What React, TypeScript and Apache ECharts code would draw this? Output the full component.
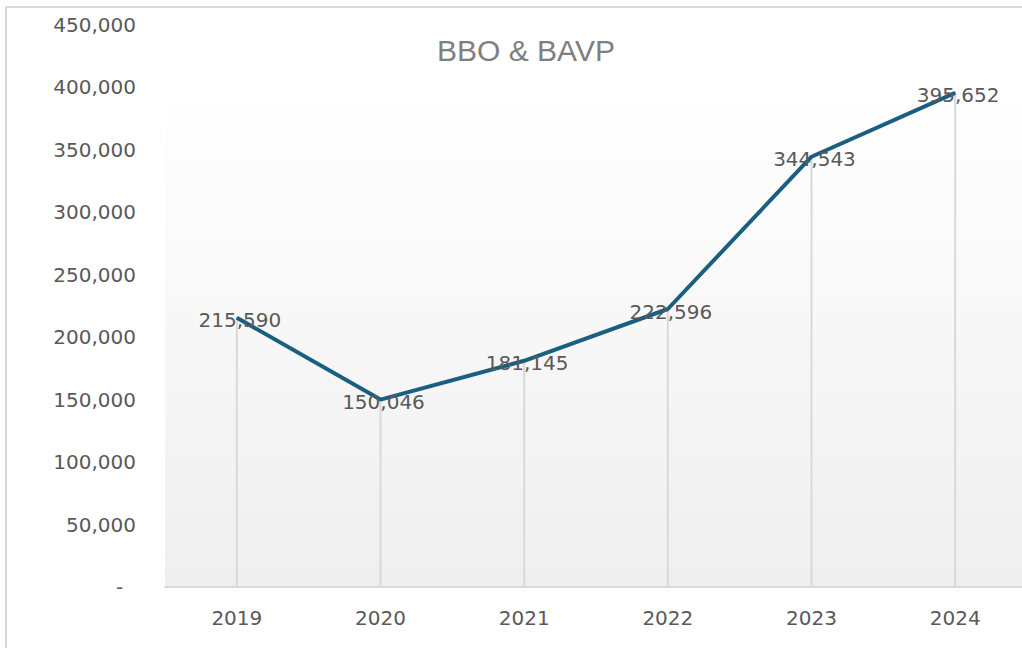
import React, { useEffect, useRef } from "react";
import * as echarts from "echarts";

const categories = ["2019", "2020", "2021", "2022", "2023", "2024"];
const values = [215590, 150046, 181145, 222596, 344543, 395652];
const yTicks = [0, 50000, 100000, 150000, 200000, 250000, 300000, 350000, 400000, 450000];
const title = "BBO & BAVP";

const FONT = "DejaVu Sans, sans-serif";
const TITLE_FONT = "Liberation Sans, Arial, sans-serif";

function fmt(v: number): string {
  if (v === 0) return "-  ";
  return v.toLocaleString("en-US");
}

export default function App() {
  const ref = useRef<HTMLDivElement>(null);
  useEffect(() => {
    if (!ref.current) return;
    const chart = echarts.init(ref.current, null, { renderer: "svg" });
    chart.setOption({
      animation: false,
      backgroundColor: "#ffffff",
      title: {
        text: title,
        left: 521,
        textAlign: "center",
        top: 30,
        textStyle: { color: "#7f7f7f", fontSize: 30, fontWeight: "normal", fontFamily: TITLE_FONT },
      },
      graphic: [
        {
          type: "rect",
          silent: true,
          z: -10,
          shape: { x: 6, y: 7, width: 1040, height: 660 },
          style: { fill: "none", stroke: "#d9d9d9", lineWidth: 2 },
        },
        {
          type: "rect",
          silent: true,
          z: -9,
          shape: { x: 165, y: 88, width: 870, height: 499 },
          style: {
            fill: new echarts.graphic.LinearGradient(0, 0, 0, 1, [
              { offset: 0, color: "#ffffff" },
              { offset: 1, color: "#efefef" },
            ]),
          },
        },
      ],
      grid: { left: 165, top: 25, width: 862, height: 562, containLabel: false },
      xAxis: {
        type: "category",
        data: categories,
        boundaryGap: true,
        axisLine: { show: true, lineStyle: { color: "#d9d9d9", width: 2 } },
        axisTick: { show: false },
        axisLabel: { color: "#595959", fontSize: 20, fontFamily: FONT, margin: 21 },
      },
      yAxis: {
        type: "value",
        min: yTicks[0],
        max: yTicks[yTicks.length - 1],
        interval: 50000,
        axisLine: { show: false },
        axisTick: { show: false },
        splitLine: { show: false },
        axisLabel: {
          color: "#595959",
          fontSize: 20,
          fontFamily: FONT,
          margin: 29,
          formatter: (v: number) => fmt(v),
        },
      },
      series: [
        {
          type: "bar",
          data: values,
          barWidth: 2,
          itemStyle: { color: "#d9d9d9" },
          silent: true,
          z: 1,
        },
        {
          type: "line",
          data: values,
          symbol: "circle",
          symbolSize: 1,
          showSymbol: true,
          itemStyle: { color: "#1b5f80" },
          lineStyle: { color: "#1b5f80", width: 4 },
          z: 3,
          label: {
            show: true,
            position: "top",
            distance: -13,
            offset: [3, 0],
            color: "#595959",
            fontSize: 20,
            fontFamily: FONT,
            formatter: (p: any) => fmt(p.value),
          },
        },
      ],
    });
    return () => chart.dispose();
  }, []);
  return (
    <div style={{ position: "fixed", left: 0, top: 0, width: 1022, height: 648, overflow: "hidden" }}>
      <div ref={ref} style={{ width: 1040, height: 648 }} />
    </div>
  );
}
